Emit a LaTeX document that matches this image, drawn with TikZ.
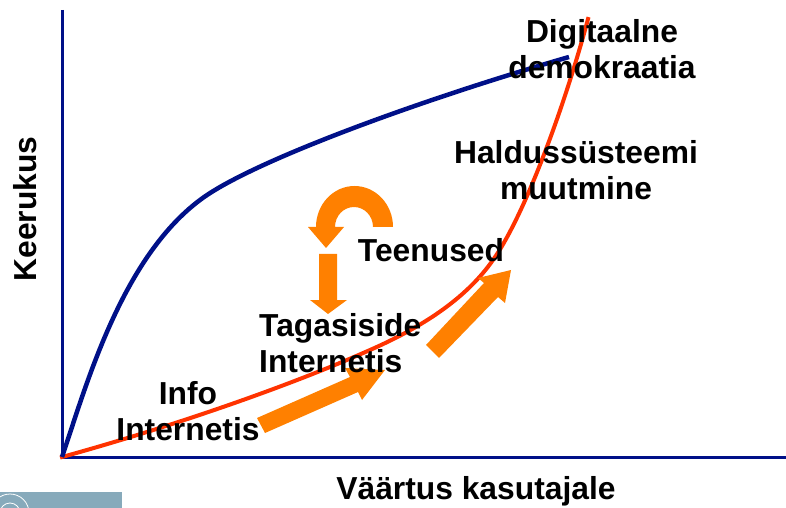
\documentclass[tikz,border=0pt]{standalone}
\usepackage{fontspec}
\setmainfont{Liberation Sans}
\definecolor{axisblue}{RGB}{0,16,136}
\definecolor{curvered}{RGB}{255,51,0}
\definecolor{flecho}{RGB}{255,128,0}
\definecolor{logoblue}{RGB}{135,170,187}
\tikzset{
  lbl/.style={font=\fontsize{31.8bp}{35.5bp}\selectfont\bfseries, align=center, inner sep=0pt},
  axisline/.style={line width=3bp, axisblue},
  bigarrow/.style={draw=none, fill=flecho}
}
\begin{document}
\begin{tikzpicture}[x=1bp, y=-1bp]
\useasboundingbox (0,0) rectangle (786,508);
%\draw [help lines, step=100] (0,0) grid (786,508);
\fill [logoblue] (0,492) rectangle (122,508);
\begin{scope}
\clip (0,492) rectangle (122,508);
\draw [white, line width=0.8pt] (10,513) circle [radius=19];
\draw [white, line width=0.8pt] (10,513) circle [radius=10];
\end{scope}
\coordinate (origin) at (62,457);
\coordinate (ytop) at (62,10);
\coordinate (xend) at (786,457);
\draw [axisline] (ytop) -- (origin) -- (xend);
% curves
\draw [line width=4bp, curvered, line cap=rect] (origin) .. controls (160,430) and (280,390) .. (370,350) .. controls (420,328) and (465,300) .. (493,260) .. controls (525,215) and (565,105) .. (588,19);
\draw [line width=4.5bp, axisblue] (origin) .. controls (85,390) and (120,260) .. (200,200) .. controls (250,162) and (420,100) .. (569,57);
% arrows
\fill [bigarrow] (257,418) -- (350,377) -- (345,368) -- (385,370) -- (362,400) -- (358,392) -- (265,433) -- cycle;
\fill [bigarrow] (426,345) -- (484,283) -- (478,278) -- (511,270) -- (505,303) -- (498,297) -- (439,358) -- cycle;
\fill [bigarrow] (319,254) -- (337,254) -- (337,300) -- (347,300) -- (328,314) -- (310,300) -- (319,300) -- cycle;
\fill [bigarrow] (393,227) arc (0:-180:38.5 and 41) -- (308,227) -- (326,248) -- (344,227) -- (335,227) arc (-180:0:19 and 20) -- cycle;
% labels
\node [lbl] (digital) at (602,49) {Digitaalne\\demokraatia};
\node [lbl] (haldus) at (576,170) {Haldussüsteemi\\muutmine};
\node [lbl] (teenused) at (431,250) {Teenused};
\node [lbl, align=left, anchor=west] (tagasi) at (259,343) {Tagasiside\\Internetis};
\node [lbl] (info) at (188,411) {Info\\Internetis};
\node [lbl] (xlabel) at (476,491) {Väärtus kasutajale};
\node [lbl, rotate=90] (ylabel) at (25,209) {Keerukus};
\end{tikzpicture}
\end{document}
